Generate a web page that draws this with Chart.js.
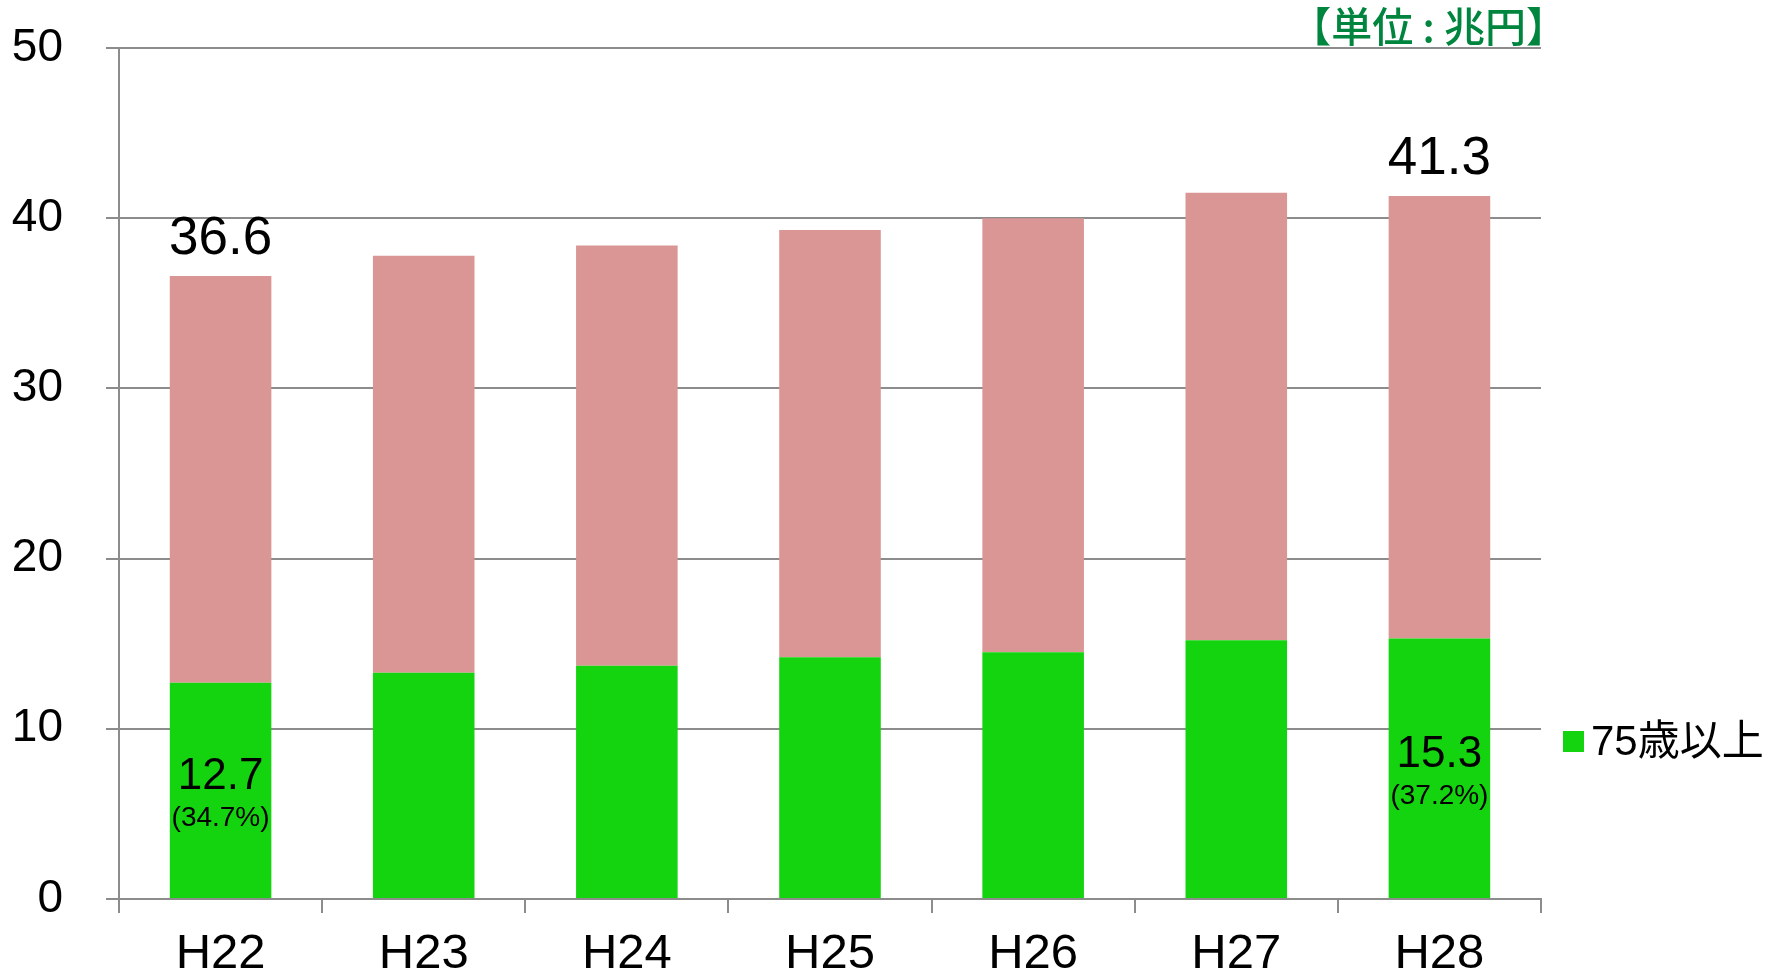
<!DOCTYPE html>
<html>
<head>
<meta charset="utf-8">
<script src="https://cdn.jsdelivr.net/npm/chart.js@4.4.1/dist/chart.umd.min.js"></script>
<style>
    body { margin: 0; background: #fff; }
    #wrap { width: 1777px; height: 974px; position: relative; }
</style>
</head>
<body>
<div id="wrap"><canvas id="costChart"></canvas></div>
<script>
// data (兆円)
const categories = ['H22', 'H23', 'H24', 'H25', 'H26', 'H27', 'H28'];
const over75 = [12.7, 13.3, 13.7, 14.2, 14.5, 15.2, 15.3];
const under75 = [23.9, 24.5, 24.7, 25.1, 25.5, 26.3, 26.0];
const totals = [36.6, 37.8, 38.4, 39.3, 40.0, 41.5, 41.3];
const shareLabels = ['(34.7%)', '', '', '', '', '', '(37.2%)'];
const labeledBars = [0, 6];
const yTicks = [0, 10, 20, 30, 40, 50];

const GREEN = '#14d30f';
const PINK = '#d99694';
const GRID = '#8c8c8c';
const FONT = '"Liberation Sans", Arial, "Noto Sans CJK JP", sans-serif';

// labels on bars, unit note and legend
const annotations = {
    id: 'annotations',
    afterDatasetsDraw(chart) {
        const ctx = chart.ctx;
        const x = chart.scales.x;
        const y = chart.scales.y;
        const area = chart.chartArea;

        ctx.save();
        ctx.fillStyle = '#000';
        ctx.textAlign = 'center';
        ctx.textBaseline = 'middle';
        labeledBars.forEach(i => {
            const cx = x.getPixelForValue(i);
            ctx.font = '53px ' + FONT;
            ctx.fillText(totals[i].toFixed(1), cx, y.getPixelForValue(totals[i]) - 37);
            const mid = (y.getPixelForValue(0) + y.getPixelForValue(over75[i])) / 2;
            ctx.font = '44px ' + FONT;
            ctx.fillText(over75[i].toFixed(1), cx, mid - 14);
            ctx.font = '28px ' + FONT;
            ctx.fillText(shareLabels[i], cx, mid + 27);
        });

        // unit note
        ctx.fillStyle = '#00853e';
        ctx.textAlign = 'right';
        ctx.font = '500 41px "Noto Sans CJK JP", sans-serif';
        ctx.fillText('【単位 : 兆円】', area.right + 26, 26);

        // legend (only the 75+ series)
        const ds = chart.data.datasets[0];
        ctx.fillStyle = ds.backgroundColor;
        ctx.fillRect(1563, 731, 21, 21);
        ctx.fillStyle = '#000';
        ctx.textAlign = 'left';
        ctx.font = '42px ' + FONT;
        ctx.fillText(ds.label, 1591, 743);
        ctx.restore();
    }
};

new Chart(document.getElementById('costChart'), {
    type: 'bar',
    data: {
        labels: categories,
        datasets: [
            {
                label: '75歳以上',
                data: over75,
                backgroundColor: GREEN,
                barPercentage: 0.5,
                categoryPercentage: 1.0
            },
            {
                label: '75歳未満',
                data: under75,
                backgroundColor: PINK,
                barPercentage: 0.5,
                categoryPercentage: 1.0
            }
        ]
    },
    options: {
        responsive: true,
        maintainAspectRatio: false,
        animation: false,
        layout: {
            padding: { top: 48, right: 236, left: 0, bottom: 0 }
        },
        scales: {
            x: {
                stacked: true,
                offset: true,
                afterFit: axis => { axis.height = 75; },
                grid: {
                    offset: true,
                    color: c => (c.index === categories.length ? GRID : 'rgba(0,0,0,0)'),
                    tickColor: GRID,
                    tickLength: 14,
                    lineWidth: 2
                },
                border: { color: GRID, width: 2 },
                ticks: {
                    color: '#000',
                    font: { family: FONT, size: 49 },
                    padding: 12
                }
            },
            y: {
                stacked: true,
                min: 0,
                max: 50,
                afterBuildTicks: axis => {
                    axis.ticks = yTicks.map(v => ({ value: v }));
                },
                afterFit: axis => {
                    axis.width = 119;
                    axis.paddingTop = 0;
                    axis.paddingBottom = 0;
                },
                grid: {
                    color: GRID,
                    tickColor: GRID,
                    tickLength: 13,
                    lineWidth: 2
                },
                border: { color: GRID, width: 2 },
                ticks: {
                    color: '#000',
                    font: { family: FONT, size: 46 },
                    padding: 43
                }
            }
        },
        plugins: {
            legend: { display: false },
            tooltip: { enabled: false }
        }
    },
    plugins: [annotations]
});
</script>
</body>
</html>
